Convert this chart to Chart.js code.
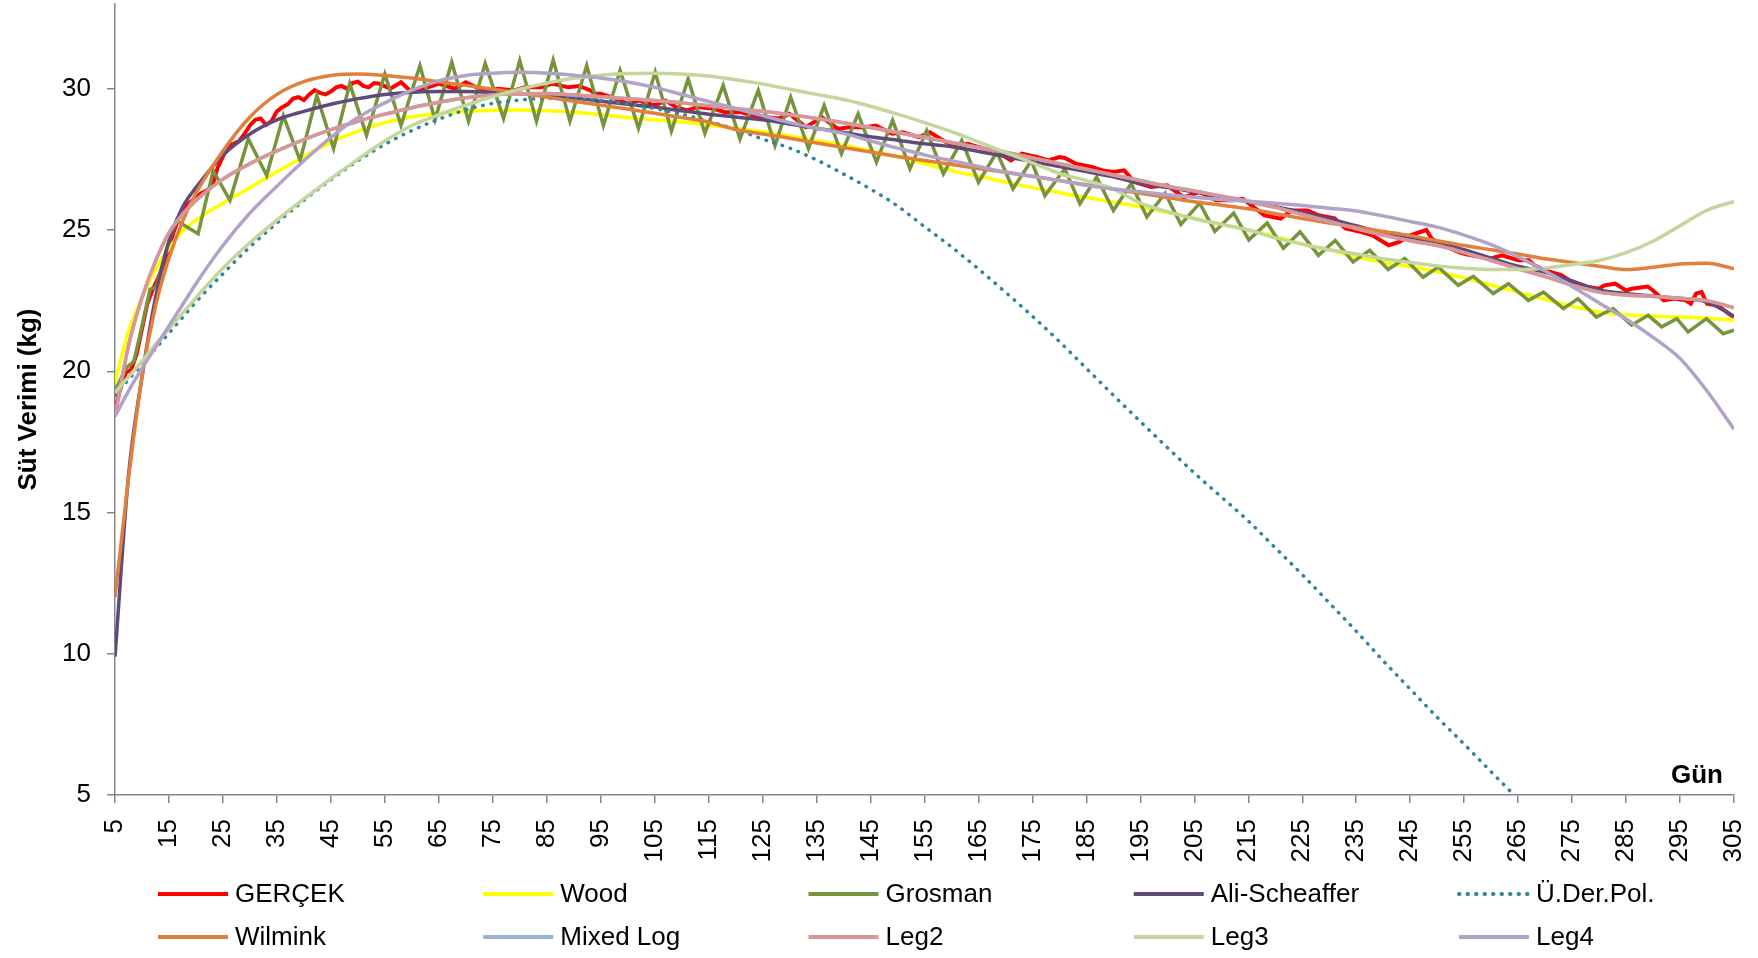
<!DOCTYPE html>
<html lang="tr">
<head>
<meta charset="utf-8">
<title>Süt Verimi</title>
<script src="https://cdn.jsdelivr.net/npm/chart.js"></script>
<style>
    body { margin: 0; background: #fff; }
    #caixa { width: 1758px; height: 958px; }
</style>
</head>
<body>
<div id="caixa"><canvas id="grafico" width="1758" height="958"></canvas></div>
<script>
// dias do eixo x (rótulos) e do eixo y
const rotulosX = [5, 15, 25, 35, 45, 55, 65, 75, 85, 95, 105, 115, 125, 135, 145, 155, 165, 175, 185, 195, 205, 215, 225, 235, 245, 255, 265, 275, 285, 295, 305];
const rotulosY = [5, 10, 15, 20, 25, 30];

// dias usados pelas curvas suaves (modelos)
const diasModelo = [5, 7.5, 10, 12.5, 15, 17.5, 20, 25, 30, 35, 40, 45, 50, 55, 60, 65, 70, 75, 80, 85, 90, 95, 100, 105, 110, 115, 120, 125, 130, 135, 140, 145, 150, 155, 160, 165, 170, 175, 180, 185, 190, 195, 200, 205, 210, 215, 220, 225, 230, 235, 240, 245, 250, 255, 260, 265, 270, 275, 280, 285, 290, 295, 300, 305];

const wood = [19.6, 21.4, 22.6, 23.6, 24.35, 24.95, 25.35, 25.95, 26.5, 27.05, 27.6, 28.1, 28.5, 28.8, 29.0, 29.12, 29.2, 29.24, 29.25, 29.22, 29.17, 29.08, 28.98, 28.9, 28.82, 28.72, 28.6, 28.48, 28.33, 28.17, 28.0, 27.8, 27.6, 27.35, 27.1, 26.9, 26.7, 26.5, 26.32, 26.15, 25.98, 25.82, 25.62, 25.42, 25.2, 25.0, 24.78, 24.5, 24.3, 24.05, 23.85, 23.7, 23.52, 23.3, 23.05, 22.8, 22.55, 22.3, 22.1, 22.0, 21.95, 21.92, 21.88, 21.8];

const wilmink = [12.0, 16.2, 19.8, 22.3, 24.0, 25.3, 26.3, 27.8, 29.0, 29.8, 30.25, 30.47, 30.52, 30.47, 30.38, 30.25, 30.12, 29.98, 29.85, 29.7, 29.56, 29.42, 29.28, 29.13, 28.98, 28.82, 28.56, 28.4, 28.25, 28.08, 27.92, 27.76, 27.6, 27.46, 27.32, 27.18, 27.04, 26.9, 26.75, 26.6, 26.45, 26.3, 26.15, 26.0, 25.88, 25.75, 25.58, 25.41, 25.25, 25.1, 24.95, 24.8, 24.62, 24.45, 24.3, 24.15, 23.98, 23.85, 23.72, 23.6, 23.68, 23.8, 23.82, 23.63];

const aliScheaffer = [9.9, 16.3, 19.8, 22.6, 24.6, 25.8, 26.5, 27.65, 28.4, 28.9, 29.2, 29.45, 29.65, 29.8, 29.88, 29.9, 29.9, 29.87, 29.82, 29.75, 29.67, 29.56, 29.45, 29.35, 29.22, 29.1, 29.0, 28.9, 28.75, 28.6, 28.45, 28.3, 28.18, 28.05, 27.95, 27.78, 27.6, 27.42, 27.25, 27.07, 26.88, 26.65, 26.5, 26.35, 26.18, 26.0, 25.82, 25.62, 25.4, 25.15, 24.9, 24.7, 24.58, 24.3, 24.0, 23.72, 23.5, 23.2, 22.88, 22.75, 22.66, 22.58, 22.45, 21.95];

const mixedLog = [18.4, 20.9, 22.6, 23.9, 24.9, 25.55, 26.05, 26.8, 27.35, 27.8, 28.2, 28.55, 28.85, 29.1, 29.33, 29.52, 29.68, 29.78, 29.82, 29.83, 29.78, 29.72, 29.65, 29.58, 29.5, 29.4, 29.3, 29.2, 29.08, 28.95, 28.8, 28.63, 28.45, 28.28, 28.1, 27.92, 27.75, 27.55, 27.35, 27.15, 26.95, 26.75, 26.55, 26.38, 26.2, 26.02, 25.8, 25.55, 25.3, 25.05, 24.82, 24.62, 24.45, 24.2, 23.92, 23.63, 23.35, 23.05, 22.8, 22.7, 22.65, 22.58, 22.5, 22.25];

const leg2 = [18.4, 20.9, 22.6, 23.9, 24.9, 25.55, 26.05, 26.8, 27.35, 27.8, 28.2, 28.55, 28.85, 29.1, 29.33, 29.52, 29.68, 29.78, 29.82, 29.83, 29.78, 29.72, 29.65, 29.58, 29.5, 29.4, 29.3, 29.2, 29.08, 28.95, 28.8, 28.63, 28.45, 28.28, 28.1, 27.92, 27.75, 27.55, 27.35, 27.15, 26.95, 26.75, 26.55, 26.38, 26.2, 26.02, 25.8, 25.55, 25.3, 25.05, 24.82, 24.62, 24.45, 24.2, 23.92, 23.63, 23.35, 23.05, 22.8, 22.7, 22.65, 22.58, 22.5, 22.25];

const leg3 = [19.25, 19.8, 20.35, 20.95, 21.5, 22.05, 22.6, 23.65, 24.55, 25.35, 26.1, 26.82, 27.5, 28.15, 28.7, 29.08, 29.42, 29.72, 29.98, 30.2, 30.37, 30.48, 30.54, 30.55, 30.52, 30.45, 30.32, 30.17, 29.98, 29.8, 29.62, 29.38, 29.1, 28.8, 28.48, 28.12, 27.75, 27.38, 27.0, 26.75, 26.45, 25.95, 25.65, 25.4, 25.2, 25.0, 24.72, 24.5, 24.3, 24.15, 23.98, 23.85, 23.73, 23.65, 23.6, 23.6, 23.65, 23.78, 23.92, 24.2, 24.6, 25.15, 25.7, 26.0];

const leg4 = [18.4, 19.3, 20.1, 20.85, 21.6, 22.35, 23.1, 24.45, 25.6, 26.55, 27.45, 28.28, 28.98, 29.5, 29.95, 30.28, 30.47, 30.55, 30.58, 30.55, 30.48, 30.38, 30.24, 30.05, 29.8, 29.55, 29.3, 29.05, 28.8, 28.6, 28.42, 28.15, 27.9, 27.66, 27.45, 27.25, 27.05, 26.9, 26.75, 26.58, 26.45, 26.35, 26.25, 26.16, 26.08, 26.02, 25.95, 25.87, 25.77, 25.67, 25.5, 25.3, 25.1, 24.82, 24.48, 24.05, 23.55, 23.0, 22.42, 21.85, 21.2, 20.45, 19.3, 17.95];

const uDerPol = [19.15, 19.7, 20.25, 20.8, 21.35, 21.9, 22.45, 23.45, 24.4, 25.25, 26.05, 26.78, 27.45, 28.03, 28.52, 28.92, 29.25, 29.48, 29.6, 29.66, 29.65, 29.58, 29.46, 29.3, 29.1, 28.85, 28.56, 28.22, 27.9, 27.48, 26.98, 26.45, 25.85, 25.12, 24.4, 23.62, 22.8, 21.95, 21.05, 20.1, 19.15, 18.22, 17.3, 16.4, 15.55, 14.7, 13.75, 12.8, 11.8, 10.8, 9.75, 8.75, 7.75, 6.8, 5.82, 4.85, 3.85, 2.85, 1.85, 0.85, -0.15, -1.15, -2.15, -3.15];

// dados reais (GERÇEK)
const diasGercek = [5, 6, 7, 8, 9, 10, 11, 12, 13, 14, 15, 16, 17, 18, 19, 20, 21, 22, 23, 24, 25, 26, 27, 28, 29, 30, 31, 32, 33, 34, 35, 36, 37, 38, 39, 40, 41, 42, 43, 44, 45, 46, 47, 48, 49, 50, 51, 52, 53, 54, 56, 58, 60, 63, 65, 68, 70, 72, 74, 76, 79, 81, 84, 86, 89, 91, 93, 94, 95, 97, 100, 102, 105, 107, 109, 111, 113, 116, 118, 121, 123, 126, 128, 130, 133, 136, 139, 141, 144, 146, 149, 151, 154, 156, 159, 161, 163, 166, 168, 171, 173, 176, 178, 180, 181, 183, 186, 188, 190, 192, 194, 197, 200, 203, 206, 209, 212, 214, 216, 218, 221, 223, 226, 228, 231, 233, 236, 238, 241, 243, 245, 248, 249, 251, 254, 255, 258, 260, 262, 265, 267, 268, 270, 273, 275, 278, 280, 281, 283, 285, 286, 289, 290, 292, 294, 296, 297, 298, 299, 300, 302, 304, 305];
const gercek = [18.6, 19.4, 19.95, 20.05, 20.6, 21.5, 22.4, 22.9, 23.3, 23.8, 24.4, 25.0, 25.55, 25.85, 26.0, 26.15, 26.3, 26.4, 26.55, 27.2, 27.6, 28.0, 28.05, 28.15, 28.4, 28.7, 28.9, 28.95, 28.72, 28.85, 29.2, 29.35, 29.45, 29.65, 29.7, 29.6, 29.8, 29.95, 29.85, 29.8, 29.9, 30.05, 30.1, 30.0, 30.2, 30.25, 30.1, 30.05, 30.2, 30.18, 30.0, 30.23, 29.88, 30.05, 30.18, 30.0, 30.23, 30.05, 29.94, 30.0, 29.94, 30.05, 30.05, 30.18, 30.05, 30.1, 29.95, 29.82, 29.82, 29.7, 29.47, 29.58, 29.41, 29.58, 29.35, 29.23, 29.35, 29.29, 29.17, 29.17, 29.05, 28.99, 28.95, 29.11, 28.64, 28.99, 28.58, 28.64, 28.64, 28.7, 28.41, 28.46, 28.29, 28.46, 28.11, 27.99, 28.05, 27.88, 27.82, 27.46, 27.7, 27.58, 27.46, 27.58, 27.55, 27.35, 27.23, 27.11, 27.05, 27.11, 26.69, 26.52, 26.58, 26.16, 26.34, 26.05, 26.05, 26.1, 25.81, 25.52, 25.4, 25.69, 25.69, 25.52, 25.41, 25.06, 24.93, 24.81, 24.46, 24.58, 24.81, 25.0, 24.69, 24.46, 24.22, 24.16, 24.04, 23.99, 24.1, 23.93, 23.93, 23.75, 23.57, 23.4, 23.16, 22.98, 22.92, 23.04, 23.1, 22.86, 22.92, 23.0, 22.86, 22.51, 22.57, 22.51, 22.39, 22.75, 22.8, 22.39, 22.33, 22.04, 21.92];

// Grosman (picos e vales)
const diasGrosman = [5, 7, 8.5, 10, 11.5, 12.7, 14.5, 16.4, 17.5, 20.4, 23.2, 26.3, 29.7, 33.1, 36.2, 39.3, 42.4, 45.5, 48.5, 51.6, 55, 58, 61.5, 64.3, 67.4, 70.5, 73.6, 77, 80, 83.1, 86.2, 89.3, 92.4, 95.5, 98.6, 102, 105.1, 108.1, 111.2, 114.3, 117.7, 120.8, 124.2, 127.3, 130.2, 133.5, 136.4, 139.6, 142.7, 146.1, 149.1, 152.3, 155.4, 158.5, 161.9, 165, 168.4, 171.4, 174.8, 177.3, 181, 183.8, 186.9, 190, 193.3, 196.2, 199.6, 202.5, 206, 208.8, 212.3, 215.1, 218.5, 221.5, 224.6, 228, 231.1, 234.4, 237.5, 240.9, 244, 247.4, 250.2, 253.9, 256.7, 260.4, 263.2, 266.9, 269.7, 273.4, 276.1, 279.5, 282.6, 286, 289.1, 291.6, 294.4, 296.5, 299.9, 303, 305];
const grosman = [19.3, 20.1, 20.35, 21.6, 22.9, 23.0, 24.3, 25.34, 25.2, 24.87, 27.1, 26.05, 28.23, 26.93, 29.05, 27.46, 29.76, 27.88, 30.18, 28.35, 30.52, 28.7, 30.82, 28.9, 30.94, 28.85, 30.9, 28.95, 31.0, 28.85, 31.02, 28.85, 30.82, 28.7, 30.65, 28.6, 30.59, 28.5, 30.35, 28.42, 30.12, 28.22, 29.94, 27.99, 29.7, 27.88, 29.41, 27.7, 29.11, 27.4, 28.88, 27.17, 28.52, 26.99, 28.17, 26.69, 27.76, 26.46, 27.46, 26.22, 27.17, 25.93, 26.87, 25.69, 26.64, 25.46, 26.3, 25.2, 25.95, 24.95, 25.6, 24.65, 25.25, 24.35, 24.93, 24.1, 24.63, 23.87, 24.28, 23.6, 23.99, 23.33, 23.69, 23.04, 23.36, 22.75, 23.1, 22.51, 22.8, 22.22, 22.57, 21.92, 22.22, 21.63, 21.98, 21.57, 21.86, 21.39, 21.86, 21.33, 21.45];

function juntar(dias, valores) {
    let pontos = [];
    for (let i = 0; i < dias.length; i++) {
        pontos.push({ x: dias[i], y: valores[i] });
    }
    return pontos;
}

// legenda em 5 colunas, desenhada no canvas
const legendaColunas = {
    id: 'legendaColunas',
    afterDraw(chart) {
        const ctx = chart.ctx;
        const area = chart.chartArea;
        ctx.save();
        chart.data.datasets.forEach(function (ds, i) {
            let x = 158 + (i % 5) * 325.25;
            let y = 894 + Math.floor(i / 5) * 43;
            ctx.beginPath();
            ctx.strokeStyle = ds.borderColor;
            ctx.lineWidth = 4;
            if (ds.borderDash) {
                ctx.setLineDash(ds.borderDash);
                ctx.lineCap = 'round';
            } else {
                ctx.setLineDash([]);
                ctx.lineCap = 'butt';
            }
            ctx.moveTo(x, y);
            ctx.lineTo(x + 70, y);
            ctx.stroke();
            ctx.setLineDash([]);
            ctx.fillStyle = '#000';
            ctx.font = '26px "Liberation Sans", Arial, sans-serif';
            ctx.textAlign = 'left';
            ctx.textBaseline = 'middle';
            ctx.fillText(ds.label, x + 77, y + 1);
        });
        // título do eixo x
        ctx.font = 'bold 26px "Liberation Sans", Arial, sans-serif';
        ctx.textAlign = 'center';
        ctx.textBaseline = 'alphabetic';
        ctx.fillStyle = '#000';
        ctx.fillText('Gün', area.right - 37, area.bottom - 12);
        ctx.restore();
    }
};

function plotarGrafico() {
    Chart.defaults.font.family = '"Liberation Sans", Arial, sans-serif';
    Chart.defaults.font.size = 26;
    Chart.defaults.color = '#000';

    const series = [
        { label: 'GERÇEK', data: juntar(diasGercek, gercek), borderColor: '#FF0000', borderWidth: 4, tension: 0 },
        { label: 'Wood', data: juntar(diasModelo, wood), borderColor: '#FFFF00' },
        { label: 'Grosman', data: juntar(diasGrosman, grosman), borderColor: '#77933C', borderWidth: 3.5, tension: 0 },
        { label: 'Ali-Scheaffer', data: juntar(diasModelo, aliScheaffer), borderColor: '#604A7B' },
        { label: 'Ü.Der.Pol.', data: juntar(diasModelo, uDerPol), borderColor: '#31859C', borderDash: [0.5, 8], borderCapStyle: 'round' },
        { label: 'Wilmink', data: juntar(diasModelo, wilmink), borderColor: '#E0803A' },
        { label: 'Mixed Log', data: juntar(diasModelo, mixedLog), borderColor: '#95B3D7' },
        { label: 'Leg2', data: juntar(diasModelo, leg2), borderColor: '#D99694' },
        { label: 'Leg3', data: juntar(diasModelo, leg3), borderColor: '#C3D69B' },
        { label: 'Leg4', data: juntar(diasModelo, leg4), borderColor: '#B3A2C7' }
    ];

    // a primeira série fica por baixo, como no Excel
    series.forEach(function (s, i) {
        s.order = series.length - i;
        s.fill = false;
        s.pointRadius = 0;
        if (s.borderWidth === undefined) s.borderWidth = 3.5;
        if (s.tension === undefined) s.cubicInterpolationMode = 'monotone';
    });

    let dados = { datasets: series };

    const config = {
        type: 'line',
        data: dados,
        options: {
            responsive: false,
            animation: false,
            devicePixelRatio: 1,
            layout: { padding: { top: 4, right: 24, left: 0, bottom: 0 } },
            plugins: {
                legend: { display: false },
                tooltip: { enabled: false }
            },
            scales: {
                x: {
                    type: 'linear',
                    min: 5,
                    max: 305,
                    afterBuildTicks: function (eixo) {
                        eixo.ticks = rotulosX.map(function (v) { return { value: v }; });
                    },
                    afterFit: function (eixo) {
                        eixo.height = 163;
                        eixo.paddingLeft = 0;
                        eixo.paddingRight = 0;
                    },
                    ticks: {
                        autoSkip: false,
                        minRotation: 90,
                        maxRotation: 90,
                        padding: 16,
                        callback: function (v) { return String(v); }
                    },
                    grid: { drawOnChartArea: false, drawTicks: true, tickLength: 8, color: '#868686', lineWidth: 1.5 },
                    border: { color: '#868686', width: 1.5 }
                },
                y: {
                    min: 5,
                    max: 33,
                    afterBuildTicks: function (eixo) {
                        eixo.ticks = rotulosY.map(function (v) { return { value: v }; });
                    },
                    afterFit: function (eixo) {
                        eixo.width = 115;
                        eixo.paddingTop = 0;
                        eixo.paddingBottom = 0;
                    },
                    ticks: { padding: 16 },
                    title: {
                        display: true,
                        text: 'Süt Verimi (kg)',
                        font: { weight: 'bold', size: 26 },
                        padding: { top: 13, bottom: 0 }
                    },
                    grid: { drawOnChartArea: false, drawTicks: true, tickLength: 8, color: '#868686', lineWidth: 1.5 },
                    border: { color: '#868686', width: 1.5 }
                }
            }
        },
        plugins: [legendaColunas]
    };

    let grafico = new Chart(document.getElementById('grafico'), config);
}

plotarGrafico();
</script>
</body>
</html>
